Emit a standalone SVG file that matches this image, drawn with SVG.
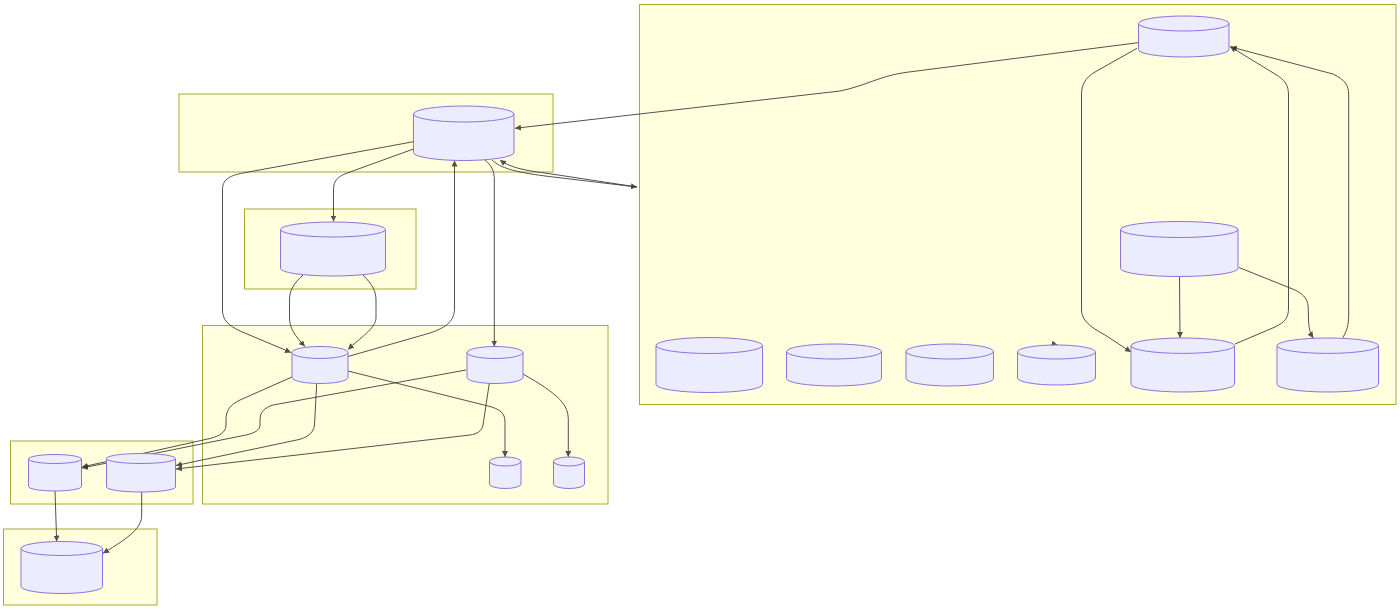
<svg xmlns="http://www.w3.org/2000/svg" width="1400" height="610" viewBox="0 0 1400 610">
<style>
.cl{fill:#ffffde;stroke:#aaaa33;stroke-width:1}
.nd{fill:#ececff;stroke:#9370db;stroke-width:1}
.ed{fill:none;stroke:#333333;stroke-width:1;opacity:0.85;marker-end:url(#arr)}
</style>
<defs>
<marker id="arr" viewBox="0 0 10 10" refX="10" refY="5" markerWidth="6" markerHeight="6" markerUnits="userSpaceOnUse" orient="auto">
<path d="M0,0 L10,5 L0,10 z" fill="#333333"/>
</marker>
</defs>
<rect width="1400" height="610" fill="#ffffff"/>
<g id="clusters">
<rect id="cluster-right" class="cl" x="639.5" y="4.5" width="756.5" height="400"/>
<rect id="cluster-top" class="cl" x="179" y="94" width="374" height="78"/>
<rect id="cluster-mid-small" class="cl" x="244.5" y="209" width="171.5" height="80"/>
<rect id="cluster-mid" class="cl" x="202.5" y="325.5" width="405.5" height="178.5"/>
<rect id="cluster-bl" class="cl" x="10.5" y="441" width="182.5" height="63"/>
<rect id="cluster-bottom" class="cl" x="3.5" y="529" width="153.5" height="76"/>
</g>
<g id="edges">
<path class="ed" d="M1138,42.7 L905,72.5 C880,76 865,86 840,91 L515,128.3"/>
<path class="ed" d="M492,160 C500,168 515,172 545,176 L637,187"/>
<path class="ed" d="M637,187 L545,173 C520,170 508,166 500,160"/>
<path class="ed" d="M413.5,141.7 L243,173 C228,176 222.5,180 222.5,190 L222.5,310 C222.5,320 228,325 240,331 L291,352.5"/>
<path class="ed" d="M413.5,149 L350,172 C338,176 333.5,180 333.5,190 L333.5,221.5"/>
<path class="ed" d="M303,275 C292,285 289.5,292 289.5,300 L289.5,318 C289.5,328 295,336 305,346.5"/>
<path class="ed" d="M363,275 C373,285 376,292 376,300 L376,318 C376,328 360,338 348,349.5"/>
<path class="ed" d="M348,356.5 L430,333 C448,327 454.5,320 454.5,308 L454.5,160.5"/>
<path class="ed" d="M485,160 C491,165 494.3,170 494.3,180 L494.3,346.5"/>
<path class="ed" d="M348,371 L488,406 C500,409 505,413 505,422 L505,457"/>
<path class="ed" d="M523,374 C560,395 568.3,405 568.3,420 L568.3,457"/>
<path class="ed" d="M292.7,376.7 L240,400 C230,405 226,410 226,420 L226,425 C226,432 220,436 210,438.5 L82,467"/>
<path class="ed" d="M466,370 L273,405 C264,408 260,412 260,420 L260,425 C260,430 255,433 246,435 L82,468"/>
<path class="ed" d="M316.7,383.3 L314.5,425 C314,432 308,437 300,439.3 L176,465.5"/>
<path class="ed" d="M489.3,383.3 L483,425 C482,431 477,434 470,435 L176,469"/>
<path class="ed" d="M55,491 L56.7,541.5"/>
<path class="ed" d="M141.7,492.3 L141.7,515 C141.7,528 130,537 103,553.3"/>
<path class="ed" d="M1137,48.3 L1095,72 C1085,78 1081.5,85 1081.5,95 L1081.5,310 C1081.5,320 1090,327 1105,335 L1131,352"/>
<path class="ed" d="M1235,344 L1275,327 C1285,322 1288.5,318 1288.5,308 L1288.5,95 C1288.5,85 1285,80 1275,74 L1230,46.5"/>
<path class="ed" d="M1343,337.5 C1347,330 1348.7,325 1348.7,315 L1348.7,95 C1348.7,85 1345,80 1333,74 L1231,47"/>
<path class="ed" d="M1179.5,276.5 L1180,338"/>
<path class="ed" d="M1239,267.5 L1295,290 C1305,295 1308.3,300 1308.3,310 L1308.5,320 C1308.8,328 1310,333 1313.3,338"/>
<path class="ed" d="M1052,343.5 L1057.5,345"/>
</g>
<g id="node-A"><path class="nd" d="M413.5,114 a50.25,8 0 0 0 100.5,0 a50.25,8 0 0 0 -100.5,0 l0,38.5 a50.25,8 0 0 0 100.5,0 l0,-38.5"/></g>
<g id="node-B"><path class="nd" d="M280.5,229.5 a52.5,7.5 0 0 0 105,0 a52.5,7.5 0 0 0 -105,0 l0,39 a52.5,7.5 0 0 0 105,0 l0,-39"/></g>
<g id="node-C"><path class="nd" d="M292,352.5 a28,6 0 0 0 56,0 a28,6 0 0 0 -56,0 l0,25 a28,6 0 0 0 56,0 l0,-25"/></g>
<g id="node-D"><path class="nd" d="M467,352.5 a28,6 0 0 0 56,0 a28,6 0 0 0 -56,0 l0,25 a28,6 0 0 0 56,0 l0,-25"/></g>
<g id="node-E"><path class="nd" d="M489.5,461.5 a15.75,4.5 0 0 0 31.5,0 a15.75,4.5 0 0 0 -31.5,0 l0,22.5 a15.75,4.5 0 0 0 31.5,0 l0,-22.5"/></g>
<g id="node-F"><path class="nd" d="M553.5,461.5 a15.5,4.5 0 0 0 31,0 a15.5,4.5 0 0 0 -31,0 l0,22.5 a15.5,4.5 0 0 0 31,0 l0,-22.5"/></g>
<g id="node-G"><path class="nd" d="M28.5,459 a26.5,4.5 0 0 0 53,0 a26.5,4.5 0 0 0 -53,0 l0,27.5 a26.5,4.5 0 0 0 53,0 l0,-27.5"/></g>
<g id="node-H"><path class="nd" d="M106.5,458.5 a34.5,5 0 0 0 69,0 a34.5,5 0 0 0 -69,0 l0,28.5 a34.5,5 0 0 0 69,0 l0,-28.5"/></g>
<g id="node-I"><path class="nd" d="M21,548.5 a40.75,7 0 0 0 81.5,0 a40.75,7 0 0 0 -81.5,0 l0,38 a40.75,7 0 0 0 81.5,0 l0,-38"/></g>
<g id="node-J"><path class="nd" d="M1138.5,23.5 a45.25,7.5 0 0 0 90.5,0 a45.25,7.5 0 0 0 -90.5,0 l0,26 a45.25,7.5 0 0 0 90.5,0 l0,-26"/></g>
<g id="node-K"><path class="nd" d="M1120.5,229.5 a58.75,8 0 0 0 117.5,0 a58.75,8 0 0 0 -117.5,0 l0,39 a58.75,8 0 0 0 117.5,0 l0,-39"/></g>
<g id="node-L"><path class="nd" d="M1131,345.7 a51.75,7.7 0 0 0 103.5,0 a51.75,7.7 0 0 0 -103.5,0 l0,38.6 a51.75,7.7 0 0 0 103.5,0 l0,-38.6"/></g>
<g id="node-M"><path class="nd" d="M1277,345.7 a50.75,7.7 0 0 0 101.5,0 a50.75,7.7 0 0 0 -101.5,0 l0,38.6 a50.75,7.7 0 0 0 101.5,0 l0,-38.6"/></g>
<g id="node-N1"><path class="nd" d="M656,345.5 a53.25,8 0 0 0 106.5,0 a53.25,8 0 0 0 -106.5,0 l0,39 a53.25,8 0 0 0 106.5,0 l0,-39"/></g>
<g id="node-N2"><path class="nd" d="M786.5,351.5 a47.5,7.5 0 0 0 95,0 a47.5,7.5 0 0 0 -95,0 l0,27 a47.5,7.5 0 0 0 95,0 l0,-27"/></g>
<g id="node-N3"><path class="nd" d="M906,351.5 a43.75,7.5 0 0 0 87.5,0 a43.75,7.5 0 0 0 -87.5,0 l0,27 a43.75,7.5 0 0 0 87.5,0 l0,-27"/></g>
<g id="node-N4"><path class="nd" d="M1017.5,352 a39,7 0 0 0 78,0 a39,7 0 0 0 -78,0 l0,26 a39,7 0 0 0 78,0 l0,-26"/></g>
</svg>
